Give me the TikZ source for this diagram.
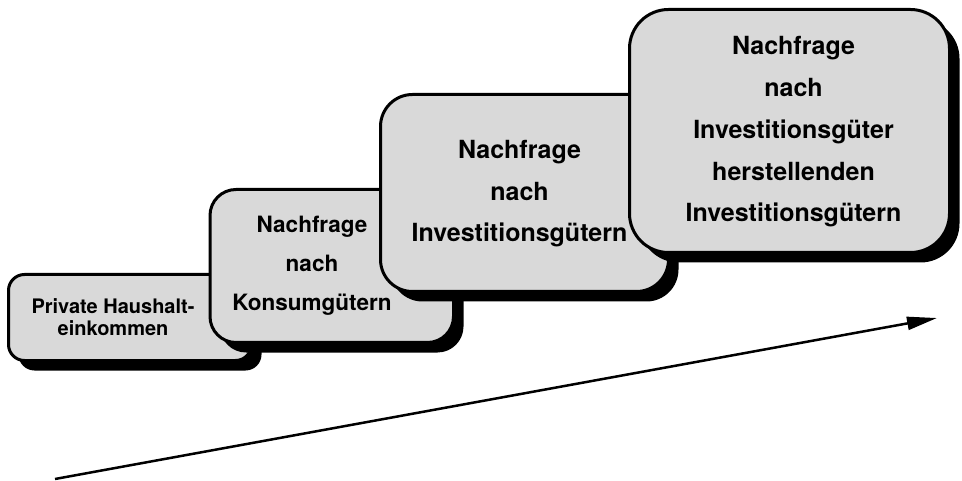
\documentclass[tikz,border=0pt]{standalone}
\usepackage{fontspec}
\setmainfont{TeX Gyre Heros}
\usetikzlibrary{shadows,arrows.meta}
\definecolor{boxgray}{RGB}{217,217,217}
\tikzset{
  stepbox/.style={rectangle, draw=black, line width=3pt, fill=boxgray, inner sep=0pt,
    drop shadow={shadow xshift=10pt, shadow yshift=-10pt, fill=black, opacity=1}},
  label/.style={anchor=base, inner sep=0pt, font=\bfseries}
}
\newcommand{\mylines}[2]{\vtop{\baselineskip=#1\lineskiplimit=-20pt\halign{\hfil##\hfil\cr #2\cr}}}
\begin{document}
\begin{tikzpicture}[x=1pt,y=-1pt]
\useasboundingbox (0,0) rectangle (962,481);
% box 1
\node[stepbox, minimum width=243pt, minimum height=86pt, rounded corners=16pt] (b1) at (130,317.5) {};
\node[label] (t1) at (113,313) {\fontsize{20}{22}\selectfont\mylines{22pt}{Private Haushalt-\cr einkommen}};
% box 2
\node[stepbox, minimum width=243.5pt, minimum height=153pt, rounded corners=26pt] (b2) at (331.75,266) {};
\node[label] (t2) at (312,233) {\fontsize{22.5}{39}\selectfont\mylines{39pt}{Nachfrage\cr nach\cr Konsumgütern}};
% box 3
\node[stepbox, minimum width=288pt, minimum height=197pt, rounded corners=32pt] (b3) at (524.5,193) {};
\node[label] (t3) at (519.5,159) {\fontsize{25}{41.5}\selectfont\mylines{41.5pt}{Nachfrage\cr nach\cr Investitionsgütern}};
% box 4
\node[stepbox, minimum width=320pt, minimum height=243pt, rounded corners=39pt] (b4) at (789.5,131) {};
\node[label] (t4) at (793.5,55) {\fontsize{25}{41.75}\selectfont\mylines{41.75pt}{Nachfrage\cr nach\cr Investitionsgüter\cr herstellenden\cr Investitionsgütern}};
% arrow
\coordinate (a0) at (55,479);
\coordinate (a1) at (937,318);
\draw[line width=2.5pt, -{Triangle[length=30pt,width=13pt]}] (a0) -- (a1);
\end{tikzpicture}
\end{document}
